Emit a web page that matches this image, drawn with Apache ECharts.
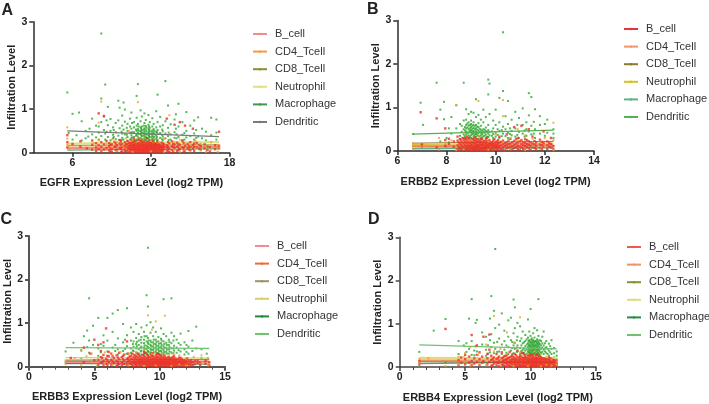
<!DOCTYPE html>
<html><head><meta charset="utf-8">
<style>html,body{margin:0;padding:0;background:#fff}#c{width:709px;height:404px}</style>
<script src="https://cdn.jsdelivr.net/npm/echarts@6/dist/echarts.min.js"></script>
</head><body><div id="c"></div>
<script>
const cellTypes = ['B_cell','CD4_Tcell','CD8_Tcell','Neutrophil','Macrophage','Dendritic'];
const xTitles = ['EGFR Expression Level (log2 TPM)','ERBB2 Expression Level (log2 TPM)','ERBB3 Expression Level (log2 TPM)','ERBB4 Expression Level (log2 TPM)'];
const panelLetters = ['A','B','C','D'];

// fit lines: [x1, x2, y1 per cell type..., y2 per cell type...]
const fitA = [5.6,17.2,[.10,.13,.17,.21,.06,.50],[.14,.12,.18,.24,.09,.37]];
const fitB = [6.6,12.35,[.11,.12,.18,.15,.06,.39],[.13,.13,.22,.18,.08,.48]];
const fitC = [2.8,13.8,[.10,.13,.15,.21,.07,.44],[.12,.11,.17,.20,.06,.42]];
const fitD = [1.5,12,[.08,.15,.19,.21,.12,.51],[.12,.13,.18,.20,.10,.42]];

// scatter, read as columns: [x, [y, y, ...]]
const greenA = [[5.6,[1.38]],[5.7,[.45]],[6,[.89,.3]],[6.3,[.4]],[6.5,[.92]],[6.7,[.72,.28]],[7,[.5,.33]],[7.3,[.55]],[7.5,[.78,.42]],[7.8,[.35,.62]],[8,[.6,.46,.3]],[8.2,[2.73,1.24,.7,.38]],[8.4,[.52,.83]],[8.5,[1.56,.44,.3]],[8.7,[1.05,.63,.36]],[8.9,[.77,.5,.28]],[9.1,[.58,.41,.33]],[9.3,[.68,.47,.31]],[9.5,[1.19,.74,.39]],[9.6,[1.03,.56,.29]],[9.8,[.85,.62,.44,.34]],[9.9,[1.15,.53,.3]],[10,[.99,.71,.42]],[10.2,[.66,.5,.36,.27]],[10.4,[.78,.6,.46,.3]],[10.5,[.92,.55,.4,.33]],[10.7,[.7,.58,.47,.36,.28]],[10.9,[1.3,.8,.62,.5,.41,.3]],[11,[1.57,.66,.54,.45,.37,.29]],[11.2,[.97,.72,.58,.5,.43,.34,.27]],[11.3,[.83,.6,.52,.46,.38,.31]],[11.5,[.9,.68,.56,.49,.42,.35,.28]],[11.6,[.75,.61,.53,.44,.37,.3]],[11.8,[.86,.64,.55,.47,.4,.33,.26]],[11.9,[.7,.57,.5,.43,.36,.29]],[12.1,[.79,.6,.51,.44,.38,.31]],[12.2,[.66,.54,.46,.35,.27]],[12.4,[.95,.58,.48,.4,.32]],[12.5,[1.33,.7,.52,.43,.3]],[12.7,[.82,.6,.45,.34]],[12.9,[.63,.49,.37,.28]],[13.1,[1.64,.72,.44,.33]],[13.3,[1.08,.57,.38]],[13.5,[.65,.42,.3]],[13.8,[.76,.47,.34]],[13.9,[.88,.55]],[14.1,[1.12,.6,.36]],[14.4,[.7,.41,.29]],[14.7,[.93,.5,.35]],[15,[.62,.38]],[15.3,[.74,.44,.3]],[15.6,[.81,.37]],[15.9,[.55,.33]],[16.2,[.48,.28]],[16.6,[.8,.4]],[17,[.76,.46,.3]],
 [7.2,[.37]],[8.6,[.48,.74]],[9.15,[.36,.52]],[9.75,[.48,.29]],[10.15,[.41,.57]],[10.55,[.35,.47,.68]],[10.85,[.27,.39,.53]],[11.05,[.33,.43,.5,.6]],[11.25,[.28,.4,.47,.55]],[11.45,[.31,.39,.46,.53,.62]],[11.65,[.27,.34,.42,.49,.58]],[11.85,[.3,.38,.45,.52,.6]],[12.05,[.28,.35,.42,.48]],[12.25,[.3,.37,.43,.5]],[12.45,[.27,.36,.47]],[12.85,[.31,.41,.53]],[13.35,[.29,.46]],[13.95,[.33,.42]],[14.55,[.3,.45]],[15.45,[.34,.52]]];
const orangeA = [[5.6,[.58,.32,.18]],[5.7,[.08]],[7.6,[.22,.1]],[8,[.69,.28]],[8.2,[1.17]],[8.6,[.2,.06]],[9,[.3,.12]],[9.4,[.25,.04]],[9.8,[.16]],[10.1,[.33,.09]],[10.3,[.5]],[10.6,[.02,.28]],[11,[1.16,.35]],[11.4,[.3]],[12,[.27,.03]],[12.6,[.24]],[13,[.02,.32]],[13.4,[.18,.86]],[13.8,[.05,.25]],[14.2,[.02,.3,.14]],[14.6,[.07,.21]],[15,[.03,.17]],[15.4,[.27,.1]],[15.8,[.05,.2]],[16.2,[.13,.02]],[16.6,[.24,.08]],[17.1,[.02,.1,.18]]];
const redA = [[5.6,[.4,.24,.12]],[6,[.2]],[6.6,[.14,.26]],[7.1,[.1]],[7.5,[.18,.07,.28]],[7.8,[.12,.22,.04]],[8,[.08,.17,.9]],[8.2,[.13,.24,.03]],[8.4,[.07,.19,.84]],[8.6,[.11,.27]],[8.8,[.05,.15,.22]],[9,[.09,.19,.02]],[9.2,[.13,.25]],[9.4,[.07,.17,.04]],[9.6,[.11,.21,.29]],[9.8,[.03,.13,.2]],[10,[.08,.16,.24,.03]],[10.2,[.05,.12,.19,.27]],[10.4,[.02,.07,.12,.17,.22]],[10.6,[.04,.09,.14,.19,.25]],[10.8,[.02,.06,.11,.16,.21,.27]],[11,[.03,.08,.13,.18,.23]],[11.2,[.01,.05,.1,.15,.2,.26]],[11.4,[.03,.07,.12,.17,.22,.28]],[11.6,[.02,.06,.11,.16,.21]],[11.8,[.04,.09,.14,.19,.25]],[12,[.01,.06,.1,.15,.2,.24]],[12.2,[.03,.08,.13,.18,.23]],[12.4,[.02,.07,.12,.17,.21]],[12.6,[.04,.09,.14,.2]],[12.8,[.06,.11,.16,.23,.03]],[13,[.08,.13,.19]],[13.2,[.05,.12,.17,.78]],[13.4,[.09,.21,.02]],[13.6,[.06,.15,.26]],[13.8,[.11,.19,.64]],[14,[.04,.14,.23]],[14.2,[.08,.18,.7]],[14.4,[.12,.27]],[14.6,[.05,.16,.62]],[14.8,[.1,.2]],[15,[.14,.24,.06]],[15.2,[.09,.18,.55]],[15.5,[.12,.22]],[15.8,[.15,.07]],[16.1,[.1,.19]],[16.5,[.13,.03]],[16.9,[.08,.17]],[17.2,[.48,.16,.1]],
 [8.9,[.03,.1,.18]],[9.3,[.06,.21,.14]],[9.7,[.02,.09,.17,.26]],[10.1,[.04,.11,.2]],[10.3,[.01,.09,.15,.23]],[10.5,[.05,.1,.16,.21,.28]],[10.7,[.03,.08,.13,.18,.24,.31]],[10.9,[.04,.09,.14,.19]],[11.1,[.02,.06,.11,.16,.21,.3]],[11.3,[.03,.08,.13,.18,.24]],[11.5,[.01,.05,.1,.14,.19,.25]],[11.7,[.04,.08,.13,.18,.23,.33]],[11.9,[.02,.07,.12,.17,.22]],[12.1,[.04,.09,.14,.19,.27]],[12.3,[.01,.05,.1,.15,.2]],[12.5,[.03,.08,.13,.18,.25]],[12.7,[.02,.07,.12,.17]],[12.9,[.04,.1,.15,.21]],[13.3,[.03,.1,.15,.24]],[13.7,[.02,.13,.2]],[14.1,[.06,.12,.19]],[14.5,[.03,.1,.22]],[14.9,[.07,.15]],[15.3,[.04,.13,.21]],[15.7,[.09,.18]],[16.3,[.06,.14]]];

const greenB = [[6.65,[.39]],[6.95,[1.11]],[7,[.08]],[7.05,[.6]],[7.6,[1.57]],[7.75,[.95,.22]],[7.9,[1.13,.73]],[8,[.3,.1]],[8.1,[.52,.2]],[8.2,[.78,.4]],[8.4,[.52,1.05]],[8.55,[.62,.35,.28]],[8.7,[1.57,.7,.5,.38,.3]],[8.8,[.96,.72,.6,.52,.45,.38,.31]],[8.9,[.85,.66,.58,.5,.43,.36,.3]],[9,[.9,.7,.62,.55,.48,.42,.36,.3]],[9.1,[.88,.66,.6,.53,.46,.4,.34,.28]],[9.2,[1.19,.78,.6,.52,.45,.39,.32]],[9.3,[.83,.64,.55,.47,.41,.35,.28]],[9.4,[.72,.58,.49,.42,.36,.29]],[9.5,[.95,.66,.5,.43,.34]],[9.6,[.78,.54,.46,.38,.3]],[9.7,[1.64,1.3,.6,.48,.4,.32]],[9.75,[1.55,.85,.44,.36]],[9.9,[.7,.52,.39,.3]],[10,[.95,.6,.42,.33]],[10.15,[1.22,.66,.46,.3]],[10.3,[2.73,1.38,.56,.4]],[10.4,[.8,.5,.34]],[10.5,[1.15,.62,.42,.3]],[10.65,[.72,.46,.36]],[10.8,[.9,.52,.33]],[10.95,[.76,.44,.3]],[11.1,[.98,.6,.4]],[11.25,[.66,.5,.35]],[11.35,[1.33,.82,.45]],[11.45,[1.24,.58,.38]],[11.6,[.96,.5,.3]],[11.8,[.8,.6,.4]],[12,[.62,.35]],[12.1,[.72,.42]],[12.35,[.5,.4,.3]],
 [8.62,[.44,.58]],[8.75,[.34,.47,.55]],[8.85,[.41,.54,.63]],[8.95,[.33,.46,.52,.6]],[9.05,[.39,.45,.51,.58]],[9.15,[.31,.37,.43,.5,.57]],[9.25,[.36,.42,.49,.56]],[9.35,[.33,.44,.51]],[9.45,[.31,.39,.46]],[9.55,[.35,.42,.49]],[9.65,[.33,.44]],[9.85,[.35,.45]],[10.08,[.37,.5]],[10.25,[.34,.48]],[10.58,[.39,.52]],[10.88,[.37,.6]],[11.18,[.33,.47]],[11.55,[.4,.67]]];
const orangeB = [[6.65,[.18,.04]],[7.2,[.12]],[7.7,[.3,.03]],[7.95,[.18]],[8.2,[.24]],[8.4,[1.06,.1,.02]],[8.7,[.42,.04]],[9,[.25]],[9.3,[1.15,.34]],[9.7,[.22,.03]],[10,[.38]],[10.3,[1.17,.8,.2]],[10.6,[.3,.04]],[10.9,[.24,.5]],[11.2,[.36,.02]],[11.5,[.28,.12]],[11.8,[.2,.05]],[12,[.3,.1]],[12.35,[.65,.25,.02]]];
const redB = [[6.95,[.89]],[7,[.15]],[7.6,[.75,.08]],[7.95,[.52,.25,.12]],[8.1,[.16,.28]],[8.3,[.1,.22]],[8.45,[.04,.13,.24,.33]],[8.55,[.07,.17,.27]],[8.65,[.02,.1,.2,.3]],[8.75,[.05,.13,.22,.29]],[8.85,[.02,.08,.15,.24,.33]],[8.95,[.04,.11,.18,.26]],[9.05,[.02,.07,.13,.2,.28]],[9.15,[.05,.1,.16,.23,.31]],[9.25,[.02,.08,.14,.21,.27]],[9.35,[.04,.11,.17,.24]],[9.45,[.02,.07,.13,.19,.28]],[9.55,[.05,.1,.16,.22]],[9.65,[.03,.08,.14,.21,.3]],[9.75,[.05,.11,.17,.25]],[9.85,[.02,.08,.14,.2]],[9.95,[.05,.11,.17,.27]],[10.05,[.03,.09,.15,.22]],[10.15,[.06,.12,.19,.33]],[10.3,[.03,.09,.16,.24]],[10.45,[.06,.13,.2,.38]],[10.6,[.02,.1,.17,.28]],[10.75,[.07,.14,.23,.55]],[10.9,[.04,.12,.2,.3]],[11.05,[.08,.16,.25,.58]],[11.2,[.03,.12,.19,.27]],[11.35,[.06,.14,.22,.5]],[11.5,[.09,.17,.33]],[11.65,[.04,.12,.2]],[11.8,[.07,.15,.26]],[11.95,[.1,.18,.45]],[12.1,[.05,.13,.22]],[12.25,[.08,.16,.3]],[12.35,[.11,.04]],
 [8.5,[.02,.1,.2]],[8.6,[.05,.14,.24]],[8.7,[.08,.17,.26]],[8.8,[.03,.1,.19,.27]],[8.9,[.05,.12,.2,.29]],[9,[.01,.08,.15,.23]],[9.1,[.04,.1,.18,.25]],[9.2,[.02,.06,.12,.19,.26]],[9.3,[.03,.09,.15,.22]],[9.4,[.01,.06,.14,.21,.27]],[9.5,[.03,.08,.15,.23]],[9.6,[.01,.07,.12,.19,.26]],[9.7,[.02,.1,.16,.23]],[9.8,[.04,.13,.19]],[9.9,[.01,.1,.16,.24]],[10,[.07,.13,.2]],[10.1,[.02,.1,.17,.25]],[10.22,[.05,.13,.21]],[10.38,[.01,.12,.18]],[10.52,[.08,.16,.24]],[10.68,[.04,.11,.2]],[10.83,[.09,.17,.27]],[10.98,[.02,.1,.22]],[11.12,[.05,.13,.2]],[11.28,[.09,.16,.25]],[11.42,[.03,.12,.2]],[11.58,[.07,.15,.23]],[11.88,[.04,.13,.21]],[12.18,[.1,.18]]];

const greenC = [[2.8,[.35,.1]],[3.4,[.55]],[4,[.38,.2]],[4.2,[.7]],[4.45,[.83,.45]],[4.6,[1.57,.6,.32]],[4.9,[.94,.5]],[5.3,[1.12,.42,.25]],[5.7,[.72,.48]],[6,[1.12,.6,.35]],[6.4,[1.22,.8,.44]],[6.8,[1.3,.65,.4,.28]],[7.2,[.98,.56,.36]],[7.5,[1.34,.72,.47,.3]],[7.8,[.9,.6,.42,.32]],[8,[.8,.58,.46,.36,.28]],[8.2,[.98,.66,.52,.42,.33]],[8.4,[.75,.6,.5,.4,.3]],[8.6,[.9,.68,.55,.46,.37,.28]],[8.8,[.8,.62,.54,.44,.36,.29]],[9,[1.64,.95,.7,.58,.48,.4,.32]],[9.1,[2.73,1.38,.66,.55,.45,.36,.28]],[9.3,[1.02,.78,.6,.5,.41,.33]],[9.5,[.9,.7,.56,.47,.38,.3]],[9.7,[.8,.62,.52,.44,.35]],[9.9,[.68,.58,.48,.4,.32]],[10.1,[.88,.64,.54,.45,.36,.28]],[10.3,[1.55,.75,.58,.47,.38,.3]],[10.5,[.7,.55,.44,.34]],[10.7,[.62,.5,.4,.3]],[10.9,[1.57,.78,.54,.42,.33]],[11.1,[.7,.48,.37]],[11.3,[.62,.44,.32]],[11.6,[.76,.5,.35]],[11.9,[.56,.4,.28]],[12.2,[.82,.46,.3]],[12.5,[.6,.36]],[12.8,[.92,.42]],[13.2,[.4,.2]],[13.6,[.3,.16]],
 [5.5,[.52,.33]],[6.6,[.5,.36]],[7.35,[.41,.62]],[7.95,[.52,.37]],[8.25,[.47,.57,.31]],[8.55,[.35,.44,.62]],[8.85,[.31,.41,.49,.7]],[9.15,[.34,.43,.52,.6]],[9.35,[.3,.38,.47,.56]],[9.55,[.33,.42,.52,.62]],[9.75,[.31,.39,.48,.57]],[9.95,[.29,.36,.44,.53]],[10.15,[.33,.41,.5,.6]],[10.35,[.34,.43,.52]],[10.55,[.3,.39,.5]],[10.75,[.35,.45,.57]],[11.05,[.31,.42,.6]],[11.45,[.38,.54]],[12.05,[.34,.5]]];
const orangeC = [[2.8,[.14,.06]],[3.5,[.2]],[4,[.36,.03]],[4.4,[.24]],[4.8,[.12,.3]],[5.2,[.02,.16]],[5.8,[.33,.08]],[6.4,[.26,.04]],[7,[.34]],[7.6,[.03,.28]],[8.2,[.32]],[8.8,[.38,.02]],[9.1,[1.18]],[9.4,[.85,.3]],[9.7,[1.04,.03]],[10.4,[1.17,.28]],[10.9,[.3,.02]],[11.5,[.26,.05]],[12,[.18,.03]],[12.6,[.22]],[13.2,[.12,.26]],[13.7,[.03,.2]]];
const redC = [[3.2,[.2]],[4.2,[.1,.44]],[4.7,[.3]],[5,[.62,.15]],[5.3,[.04,.16,.5]],[5.5,[.09,.22,.36]],[5.7,[.03,.13,.27,.56]],[5.9,[.07,.18,.88]],[6.1,[.11,.24,.34]],[6.3,[.04,.16,.3]],[6.5,[.08,.2]],[6.7,[.13,.26,.02]],[6.9,[.06,.17,.32]],[7.1,[.1,.22,.03]],[7.3,[.14,.28,.06]],[7.5,[.04,.18,.1,.58]],[7.7,[.08,.13,.23]],[7.9,[.03,.11,.18,.3]],[8.1,[.06,.12,.19,.26]],[8.3,[.02,.09,.15,.22,.3]],[8.5,[.05,.11,.17,.24]],[8.7,[.02,.08,.14,.2,.27]],[8.9,[.05,.1,.16,.22,.32]],[9.1,[.02,.07,.13,.19,.25]],[9.3,[.04,.09,.15,.21,.28]],[9.5,[.02,.07,.12,.18,.24]],[9.7,[.04,.09,.14,.2,.26]],[9.9,[.02,.06,.11,.16,.22,.29]],[10.1,[.04,.08,.13,.18,.24]],[10.3,[.02,.06,.11,.16,.21,.27]],[10.5,[.04,.09,.14,.19]],[10.7,[.02,.07,.12,.17,.23]],[10.9,[.04,.09,.15,.2]],[11.1,[.02,.07,.13,.18,.25]],[11.3,[.05,.1,.16]],[11.5,[.03,.08,.13,.21]],[11.7,[.06,.11,.17]],[11.9,[.03,.09,.15]],[12.1,[.06,.12,.19]],[12.4,[.09,.15,.03]],[12.7,[.06,.13]],[13.1,[.1,.04]],[13.5,[.07,.14]],[13.8,[.03,.1]],
 [5.6,[.1,.2]],[6,[.03,.15,.25]],[6.4,[.12,.24]],[6.8,[.04,.1,.21]],[7.2,[.07,.17,.25]],[7.6,[.02,.15,.2,.3]],[7.8,[.06,.17,.25]],[8,[.02,.09,.15,.22]],[8.2,[.04,.1,.17,.24]],[8.4,[.01,.07,.13,.19,.27]],[8.6,[.03,.09,.15,.21]],[8.8,[.05,.11,.17,.24,.34]],[9,[.02,.07,.13,.19,.28]],[9.2,[.04,.1,.16,.22]],[9.4,[.01,.06,.12,.18,.25,.31]],[9.6,[.03,.09,.15,.21]],[9.8,[.01,.06,.12,.17,.23,.3]],[10,[.03,.08,.14,.19,.26]],[10.2,[.01,.06,.1,.15,.21]],[10.4,[.03,.08,.13,.18,.24]],[10.6,[.01,.06,.11,.16,.21]],[10.8,[.03,.08,.14,.19]],[11,[.01,.05,.11,.16,.22]],[11.2,[.03,.08,.13,.19]],[11.4,[.01,.06,.11,.17]],[11.6,[.04,.09,.14,.2]],[11.8,[.02,.07,.13]],[12,[.04,.1,.16]],[12.25,[.02,.07,.13]],[12.55,[.04,.11]],[12.9,[.08,.14]]];

const greenD = [[1.5,[.35,.03]],[2.6,[.84]],[3.5,[1.11,.1]],[4.5,[.6,.3]],[4.9,[.5,.22]],[5.1,[.55,.35]],[5.3,[1.12,.42]],[5.5,[1.57,.6,.28]],[5.8,[1.02,.48]],[5.9,[1.09,.36]],[6.3,[.8,.52]],[6.6,[.7,.4,.26]],[6.9,[1.12,.62,.34]],[7,[1.64,.76,.46]],[7.2,[1.3,.56,.32]],[7.3,[2.73,.9,.42]],[7.6,[.98,.66,.36]],[7.8,[1.24,.52,.3]],[8,[.84,.6,.4]],[8.3,[1.08,.7,.46,.3]],[8.5,[1.14,.62,.38]],[8.7,[1.56,.78,.5,.32]],[8.8,[1.38,.9,.56,.42]],[9,[1.02,.7,.5,.36]],[9.2,[.94,.6,.44,.3]],[9.4,[.82,.55,.4,.32]],[9.6,[.74,.6,.48,.38,.28]],[9.8,[1.1,.68,.55,.46,.36,.28]],[9.9,[.82,.62,.52,.44,.34]],[10,[1.34,.72,.58,.5,.42,.33,.26]],[10.1,[.66,.56,.47,.39,.3]],[10.2,[.78,.62,.53,.45,.37,.28]],[10.3,[.9,.68,.56,.48,.4,.32]],[10.4,[.6,.52,.44,.36,.28]],[10.5,[.85,.64,.55,.46,.38,.3]],[10.6,[1.57,.72,.58,.5,.42,.33]],[10.7,[.62,.53,.44,.36,.28]],[10.9,[.7,.55,.45,.35]],[11,[.82,.5,.4,.3]],[11.2,[.6,.46,.33]],[11.4,[.54,.38,.26]],[11.6,[.62,.42,.3]],[11.8,[.44,.32,.22]],[12,[.36,.26,.18]],
 [5.7,[.38,.27]],[6.75,[.5,.31]],[7.45,[.58,.35]],[8.15,[.5,.33]],[8.6,[.44,.58,.3]],[8.95,[.35,.45,.62]],[9.3,[.37,.5,.66]],[9.5,[.33,.43,.57]],[9.7,[.31,.41,.52,.64]],[9.85,[.33,.4,.5,.6]],[9.95,[.3,.38,.48,.57]],[10.05,[.36,.45,.54,.63]],[10.15,[.33,.42,.51,.6]],[10.25,[.31,.41,.49,.58]],[10.35,[.34,.43,.5,.6]],[10.45,[.31,.4,.49,.57]],[10.55,[.34,.42,.52,.61]],[10.65,[.3,.39,.47,.55]],[10.8,[.33,.42,.5,.6]],[11.1,[.36,.43,.55]],[11.3,[.3,.42]],[11.5,[.34,.48]]];
const orangeD = [[1.5,[.1,.19]],[2.2,[.2]],[3.5,[.02]],[4.5,[.24,.05]],[5,[.32,.12]],[5.4,[.46,.03]],[6,[.28]],[6.6,[.52,.04]],[7.2,[1.18,.36]],[7.7,[.42,.03]],[8.2,[.8,.3]],[8.7,[.56,.02]],[9.2,[1.15,.34]],[9.8,[.3,.03]],[10.3,[.36]],[10.8,[.3,.02]],[11.2,[.24,.05]],[11.6,[.18,.03]],[12,[.12,.05]]];
const redD = [[1.5,[.14,.08]],[3.5,[.88]],[4.5,[.16,.04]],[4.7,[.1,.22]],[5,[.06,.18,.28]],[5.3,[.1,.24]],[5.5,[.74,.14,.04]],[5.7,[.2,.08]],[5.9,[.12,.5,.28]],[6.1,[.04,.18,.34]],[6.3,[.1,.24]],[6.4,[.7,.14]],[6.7,[.06,.2,.3]],[6.85,[.75,.12,.4]],[7,[.03,.16,.26]],[7.2,[.08,.13,.22]],[7.4,[.05,.11,.18,.3]],[7.6,[.02,.09,.15,.24]],[7.8,[.06,.12,.2,.34]],[8,[.03,.1,.16,.25]],[8.2,[.07,.13,.19,.28]],[8.4,[.03,.09,.15,.22,.35]],[8.6,[.06,.12,.18,.26]],[8.8,[.02,.08,.14,.2,.3]],[9,[.05,.1,.16,.23,.38]],[9.2,[.02,.07,.13,.19,.26]],[9.4,[.04,.09,.15,.21,.32]],[9.6,[.02,.07,.12,.18,.24]],[9.8,[.04,.09,.14,.2,.27]],[10,[.02,.06,.11,.16,.22,.29]],[10.2,[.04,.08,.13,.18,.24]],[10.4,[.02,.06,.11,.16,.21,.27]],[10.6,[.04,.09,.14,.19,.25]],[10.8,[.02,.07,.12,.17,.23]],[11,[.04,.09,.15,.2]],[11.2,[.02,.07,.13,.18]],[11.4,[.05,.1,.16,.22]],[11.6,[.03,.08,.13,.19]],[11.8,[.05,.11,.16]],[12,[.03,.08,.13]],
 [7.1,[.04,.19]],[7.5,[.1,.21]],[7.9,[.05,.14,.22]],[8.1,[.02,.09,.17,.26]],[8.3,[.04,.11,.21]],[8.5,[.01,.08,.15,.24]],[8.7,[.04,.1,.17,.23]],[8.9,[.01,.06,.12,.18,.27]],[9.1,[.03,.09,.15,.22]],[9.3,[.01,.05,.11,.17,.24,.33]],[9.5,[.03,.09,.15,.21,.29]],[9.7,[.01,.06,.11,.16,.22]],[9.9,[.03,.08,.13,.18,.25]],[10.1,[.01,.05,.1,.15,.2,.27]],[10.3,[.03,.07,.12,.17,.22]],[10.5,[.01,.06,.11,.16,.21,.28]],[10.7,[.03,.08,.13,.18,.24]],[10.9,[.01,.05,.1,.15,.2]],[11.1,[.03,.08,.13,.19]],[11.3,[.01,.06,.11,.17]],[11.5,[.03,.08,.14,.2]],[11.7,[.01,.06,.11,.16]],[11.9,[.03,.09,.15]]];

const paletteA = ['#f08c8c','#f59a3c','#8f8f30','#dfdf85','#3d9a4c','#7a7a7a'];
const paletteB = ['#e8333a','#f2946c','#8a7a36','#d8c020','#62b285','#52b152'];
const paletteC = ['#f18d92','#e96c3c','#a09262','#d8d060','#1f8a3a','#72c272'];
const paletteD = ['#e85c52','#f09262','#8a9030','#e2da82','#2a8a4a','#72c272'];
const widthsA = [2,1.2,1,2.2,1,1.2];
const widthsB = [1.5,2,1,1,2,1.2];
const widthsC = [2,1.2,1.2,1.2,1,1.2];
const widthsD = [1.2,1.5,1,2.2,1,1.3];

const panels = [
 {key:'A',fit:fitA,green:greenA,orange:orangeA,red:redA,pal:paletteA,w:widthsA,min:3,max:18,interval:3,ticks:[6,12,18],minor:false,
  grid:[33.3,21.7,196.2,131],legend:[252,28.5],letter:[1.5,3],axisColor:'#2b2b2b',axisW:1.5},
 {key:'B',fit:fitB,green:greenB,orange:orangeB,red:redB,pal:paletteB,w:widthsB,min:6,max:14,interval:2,ticks:null,minor:false,
  grid:[397.3,20.5,196.7,130.5],legend:[623,23.5],letter:[367,2],axisColor:'#2b2b2b',axisW:1.5},
 {key:'C',fit:fitC,green:greenC,orange:orangeC,red:redC,pal:paletteC,w:widthsC,min:0,max:15,interval:5,ticks:null,minor:true,
  grid:[29,236,196,130.7],legend:[254,240.5],letter:[0.5,212],axisColor:'#555555',axisW:2},
 {key:'D',fit:fitD,green:greenD,orange:orangeD,red:redD,pal:paletteD,w:widthsD,min:0,max:15,interval:5,ticks:null,minor:true,
  grid:[399.7,237.3,196.3,130.4],legend:[626,241.5],letter:[368,212],axisColor:'#444444',axisW:1.5}
];
const flatten = rows => rows.flatMap(r => r[1].map(y => [r[0], y]));
const font = 'Liberation Sans, Arial, sans-serif';

const grid=[],xAxis=[],yAxis=[],series=[],legend=[],graphic=[];
panels.forEach((p,i)=>{
  grid.push({left:p.grid[0],top:p.grid[1],width:p.grid[2],height:p.grid[3],containLabel:false});
  const line={lineStyle:{color:p.axisColor,width:p.axisW}};
  const lab={color:'#222',fontFamily:font,fontWeight:'bold',fontSize:10.5};
  const xa={type:'value',gridIndex:i,min:p.min,max:p.max,interval:p.interval,splitLine:{show:false},
    axisLine:{show:true,onZero:false,...line},
    axisTick:{show:true,length:4,...line},
    axisLabel:{...lab,margin:5,showMinLabel:true,showMaxLabel:true},
    minorTick:{show:p.minor,splitNumber:5,length:3,lineStyle:{color:p.axisColor,width:1}},
    name:xTitles[i],nameLocation:'middle',nameGap:25,
    nameTextStyle:{color:'#222',fontFamily:font,fontWeight:'bold',fontSize:11}};
  if(p.ticks){xa.axisTick.customValues=p.ticks;xa.axisLabel.customValues=p.ticks;}
  xAxis.push(xa);
  yAxis.push({type:'value',gridIndex:i,min:0,max:3,interval:1,splitLine:{show:false},
    axisLine:{show:true,onZero:false,...line},
    axisTick:{show:true,length:4,...line},
    axisLabel:{...lab,margin:6},
    name:'Infiltration Level',nameLocation:'middle',nameGap:15,
    nameTextStyle:{color:'#222',fontFamily:font,fontWeight:'bold',fontSize:11}});
  const names=cellTypes.map(n=>p.key+'|'+n);
  const cloud=(name,rows,color,z,size)=>series.push({type:'scatter',name:name+'_pts',xAxisIndex:i,yAxisIndex:i,data:flatten(rows),
    symbol:'rect',symbolSize:size,itemStyle:{color},z,silent:true});
  cloud(names[4],p.green,'#2ba52b',2,2);
  cloud(names[0],p.red,'#ee2f24',4,2.4);
  cloud(names[1],p.orange,'#e8a21e',5,2);
  names.forEach((n,k)=>series.push({type:'line',name:n,xAxisIndex:i,yAxisIndex:i,
    data:[[p.fit[0],p.fit[2][k]],[p.fit[1],p.fit[3][k]]],
    showSymbol:false,symbol:'circle',lineStyle:{color:p.pal[k],width:p.w[k]},itemStyle:{color:p.pal[k]},z:3,silent:true}));
  legend.push({orient:'vertical',left:p.legend[0],top:p.legend[1],data:names,selectedMode:false,
    itemWidth:14,itemHeight:3,itemGap:6.6,padding:0,
    formatter:n=>n.split('|')[1],
    textStyle:{color:'#333',fontFamily:font,fontSize:11,padding:[0,0,0,3]}});
  graphic.push({type:'text',left:p.letter[0],top:p.letter[1],
    style:{text:panelLetters[i],fill:'#222',font:'bold 16px '+font}});
});
const chart=echarts.init(document.getElementById('c'),null,{renderer:'canvas'});
chart.setOption({animation:false,backgroundColor:'#fff',grid,xAxis,yAxis,legend,series,graphic});
</script></body></html>
